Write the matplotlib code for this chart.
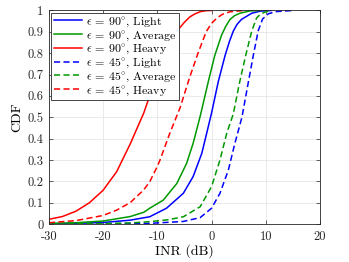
import matplotlib
matplotlib.use("Agg")
import matplotlib.pyplot as plt

plt.rcParams.update({
    "font.family": ["cmr10", "DejaVu Serif"],
    "mathtext.fontset": "cm", "axes.unicode_minus": False,
    "axes.formatter.use_mathtext": False, "font.size": 9,
})

# INR (dB) vs CDF
r90_x = [-30, -27.5, -25, -22.5, -20, -17.5, -15, -12.5, -11, -10, -9, -8, -7, -6, -5, -4, -3, -2, -1, 0]
r90_y = [0.022, 0.035, 0.06, 0.1, 0.158, 0.245, 0.375, 0.52, 0.63, 0.71, 0.78, 0.835, 0.88, 0.915, 0.945, 0.97, 0.985, 0.995, 0.999, 1.0]

g90_x = [-30, -25, -20, -15, -12.5, -11.4, -8.9, -6.4, -4.6, -3.4, -2.45, -2.0, -0.6, 0.6, 1.85, 2.6, 3.4, 4.2, 5.2, 7.1, 9]
g90_y = [0.003, 0.006, 0.014, 0.035, 0.055, 0.074, 0.112, 0.19, 0.284, 0.378, 0.47, 0.515, 0.667, 0.79, 0.885, 0.925, 0.958, 0.975, 0.987, 0.998, 1.0]

b90_x = [-30, -25, -20, -15, -11.4, -8.3, -5.2, -3.4, -1.8, -0.9, 0.0, 1.24, 2.5, 3.3, 4.0, 4.7, 5.5, 7.4, 9, 11]
b90_y = [0.001, 0.003, 0.007, 0.018, 0.034, 0.074, 0.144, 0.222, 0.331, 0.425, 0.52, 0.667, 0.79, 0.855, 0.903, 0.935, 0.958, 0.987, 0.997, 1.0]

r45_x = [-30, -25, -20, -17.5, -15, -12.5, -11.4, -10, -9.5, -7.7, -5.8, -4, -2.5, -1, 0, 1, 2, 3.4, 6]
r45_y = [0.006, 0.016, 0.04, 0.065, 0.1, 0.16, 0.198, 0.27, 0.3, 0.425, 0.545, 0.69, 0.8, 0.9, 0.94, 0.965, 0.982, 0.994, 1.0]

g45_x = [-30, -20, -15, -11.4, -8, -5.2, -2.1, 0.0, 1.55, 2.8, 4.0, 5.2, 6.3, 7.4, 8.3, 9.0, 9.8, 11]
g45_y = [0.0, 0.002, 0.005, 0.011, 0.02, 0.034, 0.081, 0.175, 0.3, 0.425, 0.515, 0.667, 0.79, 0.903, 0.965, 0.982, 0.992, 1.0]

b45_x = [-30, -20, -11.4, -5.2, -2.1, 0.0, 1.55, 3.1, 4.3, 5.6, 6.8, 7.7, 8.6, 9.4, 10.5, 12, 15]
b45_y = [0.0, 0.001, 0.003, 0.012, 0.03, 0.074, 0.144, 0.253, 0.378, 0.5, 0.667, 0.79, 0.905, 0.96, 0.985, 0.995, 1.0]

labels = [r"$\epsilon$ = 90$^{\circ}$, Light", r"$\epsilon$ = 90$^{\circ}$, Average", r"$\epsilon$ = 90$^{\circ}$, Heavy",
          r"$\epsilon$ = 45$^{\circ}$, Light", r"$\epsilon$ = 45$^{\circ}$, Average", r"$\epsilon$ = 45$^{\circ}$, Heavy"]

BLUE = (0, 0, 1); GREEN = (0, 0.6, 0); RED = (1, 0, 0)
DASH = (0, (4, 2.2))

fig = plt.figure(figsize=(3.49, 2.62), dpi=100)
ax = fig.add_axes([0.140, 0.145, 0.777, 0.815])
lw = 1.1
ax.plot(b90_x, b90_y, color=BLUE, lw=lw, label=labels[0])
ax.plot(g90_x, g90_y, color=GREEN, lw=lw, label=labels[1])
ax.plot(r90_x, r90_y, color=RED, lw=lw, label=labels[2])
ax.plot(b45_x, b45_y, color=BLUE, lw=lw, ls=DASH, label=labels[3])
ax.plot(g45_x, g45_y, color=GREEN, lw=lw, ls=DASH, label=labels[4])
ax.plot(r45_x, r45_y, color=RED, lw=lw, ls=DASH, label=labels[5])

ax.set_xlim(-30, 20); ax.set_ylim(0, 1)
ax.set_xticks([-30, -20, -10, 0, 10, 20])
ax.set_yticks([i / 10 for i in range(11)])
ax.set_yticklabels(["0", "0.1", "0.2", "0.3", "0.4", "0.5", "0.6", "0.7", "0.8", "0.9", "1"])
ax.set_xticklabels(["-30", "-20", "-10", "0", "10", "20"])
ax.tick_params(direction="in", top=True, right=True, length=3, width=0.5, colors="#262626", labelsize=9)
ax.tick_params(axis="x", pad=5)
ax.tick_params(axis="y", pad=4)
ax.grid(True, color="#e6e6e6", lw=0.6)
ax.set_axisbelow(True)
for s in ax.spines.values():
    s.set_color("#262626"); s.set_linewidth(0.6)
ax.set_xlabel("INR (dB)", fontsize=10, labelpad=1)
ax.set_ylabel("CDF", fontsize=10, labelpad=3)

leg = ax.legend(loc="upper left", fontsize=8.6, handlelength=2.4, handletextpad=0.3, labelspacing=0.0,
                borderpad=0.2, borderaxespad=0.2, fancybox=False, framealpha=1, edgecolor="#262626")
leg.get_frame().set_linewidth(0.6)

fig.savefig("out.png", dpi=100)
